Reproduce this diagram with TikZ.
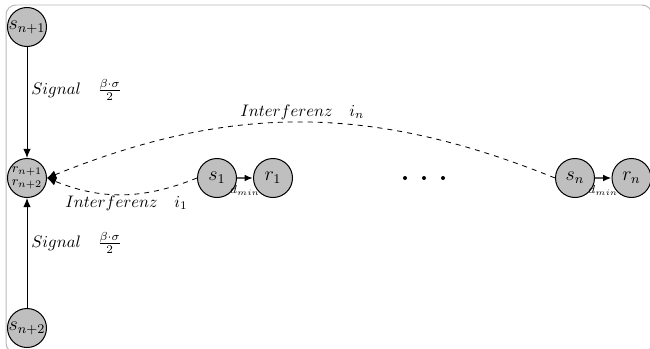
\documentclass[tikz,border=0pt]{standalone}
\usetikzlibrary{arrows.meta}
\tikzset{
  station/.style={circle, draw=black, fill=gray!50, line width=0.6pt,
    minimum size=23.4pt, inner sep=0pt, font=\large},
  hub/.style={station, font=\footnotesize, align=center},
  sig/.style={line width=0.6pt, -{Latex[length=5.5pt,width=4.5pt]}},
  intf/.style={dashed, line width=0.5pt, -{Latex[length=5.5pt,width=5pt]}},
  link/.style={line width=1pt, draw=black!65, -{Latex[length=5pt,width=4pt,black]}},
  lab/.style={anchor=west, inner sep=0pt},
  dot/.style={circle, fill=black, inner sep=0pt, minimum size=2.4pt},
  dist/.style={below=3pt, font=\scriptsize, inner sep=1pt}
}
\begin{document}
\begin{tikzpicture}[x=0.6pt, y=-0.6pt]
  \useasboundingbox (0,0) rectangle (650,349);
  \clip (0,0) rectangle (650,349);
  % outer frame
  \draw[gray!55, line width=0.6pt, rounded corners=6pt] (6,5) rectangle (652,353);

  % receivers and senders
  \node[station] (A) at (27,27) {$s_{n+1}$};
  \node[hub] (R) at (27,178) {$r_{n+1}$\\[-1.5pt]$r_{n+2}$};
  \node[station] (B) at (27,328) {$s_{n+2}$};
  \node[station] (S1) at (217,178) {$s_1$};
  \node[station] (R1) at (273,178) {$r_1$};
  \node[station] (SN) at (575,178) {$s_n$};
  \node[station] (RN) at (631.5,178) {$r_n$};

  % ellipsis between the pairs
  \node[dot] (d1) at (405,178) {};
  \node[dot] (d2) at (424,178) {};
  \node[dot] (d3) at (443,178) {};

  % signal paths
  \draw[sig] (A) -- (R);
  \draw[sig] (B) -- (R);
  \node[lab] (sigA) at (31,90) {$Signal\quad\frac{\beta\cdot\sigma}{2}$};
  \node[lab] (sigB) at (31,243) {$Signal\quad\frac{\beta\cdot\sigma}{2}$};

  % interference paths
  \draw[intf] (S1.west) to[bend left=22] (R.east);
  \draw[intf] (SN.west) to[bend right=22] (R.east);
  \node[lab] (int1) at (65,203) {$Interferenz\quad i_1$};
  \node[lab] (intn) at (240,112) {$Interferenz\quad i_n$};

  % sender-receiver links
  \draw[link] (S1) -- node[dist] (dm1) {$d_{min}$} (R1);
  \draw[link] (SN) -- node[dist] (dmn) {$d_{min}$} (RN);
\end{tikzpicture}
\end{document}
